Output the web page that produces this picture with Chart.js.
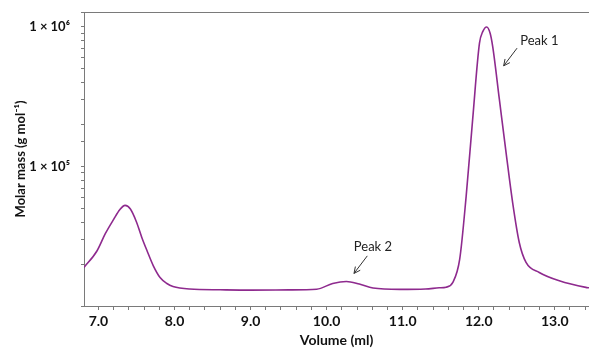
<!DOCTYPE html>
<html>
<head>
<meta charset="utf-8">
<script src="https://cdn.jsdelivr.net/npm/chart.js@4"></script>
<style>
  html, body { margin: 0; padding: 0; background: #fff; }
  #wrap { width: 589px; height: 349px; position: relative; }
</style>
</head>
<body>
<div id="wrap"><canvas id="massGraph"></canvas></div>
<script>
const volumeX = [6.81, 6.98, 7.09, 7.20, 7.28, 7.35, 7.42, 7.50, 7.57, 7.64, 7.72, 7.81, 7.90, 7.98,
                 8.20, 8.60, 9.00, 9.50, 9.87, 10.08, 10.26, 10.43, 10.61, 10.96, 11.30, 11.48,
                 11.57, 11.66, 11.75, 11.835, 11.92, 12.01, 12.053, 12.105, 12.15, 12.184, 12.272,
                 12.36, 12.446, 12.533, 12.622, 12.796, 13.059, 13.409, 13.45];
const massY = [18900, 24800, 33000, 41800, 49000, 52600, 49500, 40000, 31000, 24800, 19500, 16000, 14500, 13800,
               13230, 13070, 13000, 13050, 13200, 14500, 15000, 14360, 13450, 13160, 13250, 13500,
               13650, 14770, 21670, 61370, 216700, 764800, 925000, 1000000, 901800, 723300, 301000,
               125300, 55050, 28510, 20520, 17400, 15160, 13600, 13500];

const yLabels = {100000: "1 × 10⁵", 1000000: "1 × 10⁶"};

// peak notes: text position and arrow (from -> to), in data units
const noteText = ["Peak 1", "Peak 2"];
const noteAt = [[12.797, 798600], [10.609, 26700]];
const arrowFrom = [[12.504, 704800], [10.535, 22870]];
const arrowTo = [[12.328, 526600], [10.36, 17120]];

const lineColor = "#8e2a8e";
const axisColor = "#7a7a7a";

const notesPlugin = {
    id: "notes",
    afterDatasetsDraw(chart) {
        const c = chart.ctx;
        const xs = chart.scales.x, ys = chart.scales.y;
        const area = chart.chartArea;

        // top frame line
        c.save();
        c.strokeStyle = axisColor;
        c.lineWidth = 1;
        c.beginPath();
        c.moveTo(area.left, Math.round(area.top) + 0.5);
        c.lineTo(area.right, Math.round(area.top) + 0.5);
        c.stroke();

        c.font = "13px Lato";
        c.fillStyle = "#222";
        c.textAlign = "center";
        c.textBaseline = "middle";
        c.strokeStyle = "#333";
        for (let i = 0; i < noteText.length; i++) {
            c.fillText(noteText[i], xs.getPixelForValue(noteAt[i][0]), ys.getPixelForValue(noteAt[i][1]));
            const x1 = xs.getPixelForValue(arrowFrom[i][0]), y1 = ys.getPixelForValue(arrowFrom[i][1]);
            const x2 = xs.getPixelForValue(arrowTo[i][0]), y2 = ys.getPixelForValue(arrowTo[i][1]);
            const ang = Math.atan2(y2 - y1, x2 - x1);
            c.beginPath();
            c.moveTo(x1, y1);
            c.lineTo(x2, y2);
            c.moveTo(x2 - 7 * Math.cos(ang - 0.45), y2 - 7 * Math.sin(ang - 0.45));
            c.lineTo(x2, y2);
            c.lineTo(x2 - 7 * Math.cos(ang + 0.45), y2 - 7 * Math.sin(ang + 0.45));
            c.stroke();
        }
        c.restore();
    }
};

const points = volumeX.map((v, i) => ({x: v, y: massY[i]}));

new Chart(document.getElementById("massGraph"), {
    type: "line",
    data: {
        datasets: [{
            data: points,
            borderColor: lineColor,
            borderWidth: 1.6,
            pointRadius: 0,
            fill: false,
            cubicInterpolationMode: "monotone"
        }]
    },
    options: {
        responsive: true,
        maintainAspectRatio: false,
        animation: false,
        layout: {padding: {top: 12, right: 0, left: 0, bottom: 0}},
        plugins: {
            legend: {display: false},
            tooltip: {enabled: false}
        },
        scales: {
            x: {
                type: "linear",
                min: 6.81,
                max: 13.45,
                afterFit(scale) { scale.height = 43; scale.paddingLeft = 0; scale.paddingRight = 0; },
                border: {color: axisColor, width: 1},
                grid: {drawOnChartArea: false, drawTicks: true, tickLength: 4, color: axisColor},
                ticks: {
                    stepSize: 0.2,
                    includeBounds: false,
                    autoSkip: false,
                    maxRotation: 0,
                    padding: 3,
                    color: "#111",
                    font: {family: "Lato", size: 14, weight: "bold"},
                    callback: (v) => Math.abs(v - Math.round(v)) < 1e-6 ? Math.round(v).toFixed(1) : ""
                },
                title: {
                    display: true,
                    text: "Volume (ml)",
                    color: "#111",
                    padding: {top: 0, bottom: 0},
                    font: {family: "Lato", size: 14, weight: "bold"}
                }
            },
            y: {
                type: "logarithmic",
                min: 10000,
                max: 1280000,
                afterFit(scale) { scale.width = 84; scale.paddingTop = 0; scale.paddingBottom = 0; },
                border: {color: axisColor, width: 1},
                grid: {drawOnChartArea: false, drawTicks: true, tickLength: 3, color: axisColor},
                ticks: {
                    autoSkip: false,
                    padding: 11,
                    color: "#111",
                    font: {family: "Lato", size: 13, weight: "bold"},
                    callback: (v) => yLabels[v] || ""
                },
                title: {
                    display: true,
                    text: "Molar mass (g mol⁻¹)",
                    color: "#111",
                    padding: {top: 13, bottom: 0},
                    font: {family: "Lato", size: 13, weight: "bold"}
                }
            }
        }
    },
    plugins: [notesPlugin]
});
</script>
</body>
</html>
